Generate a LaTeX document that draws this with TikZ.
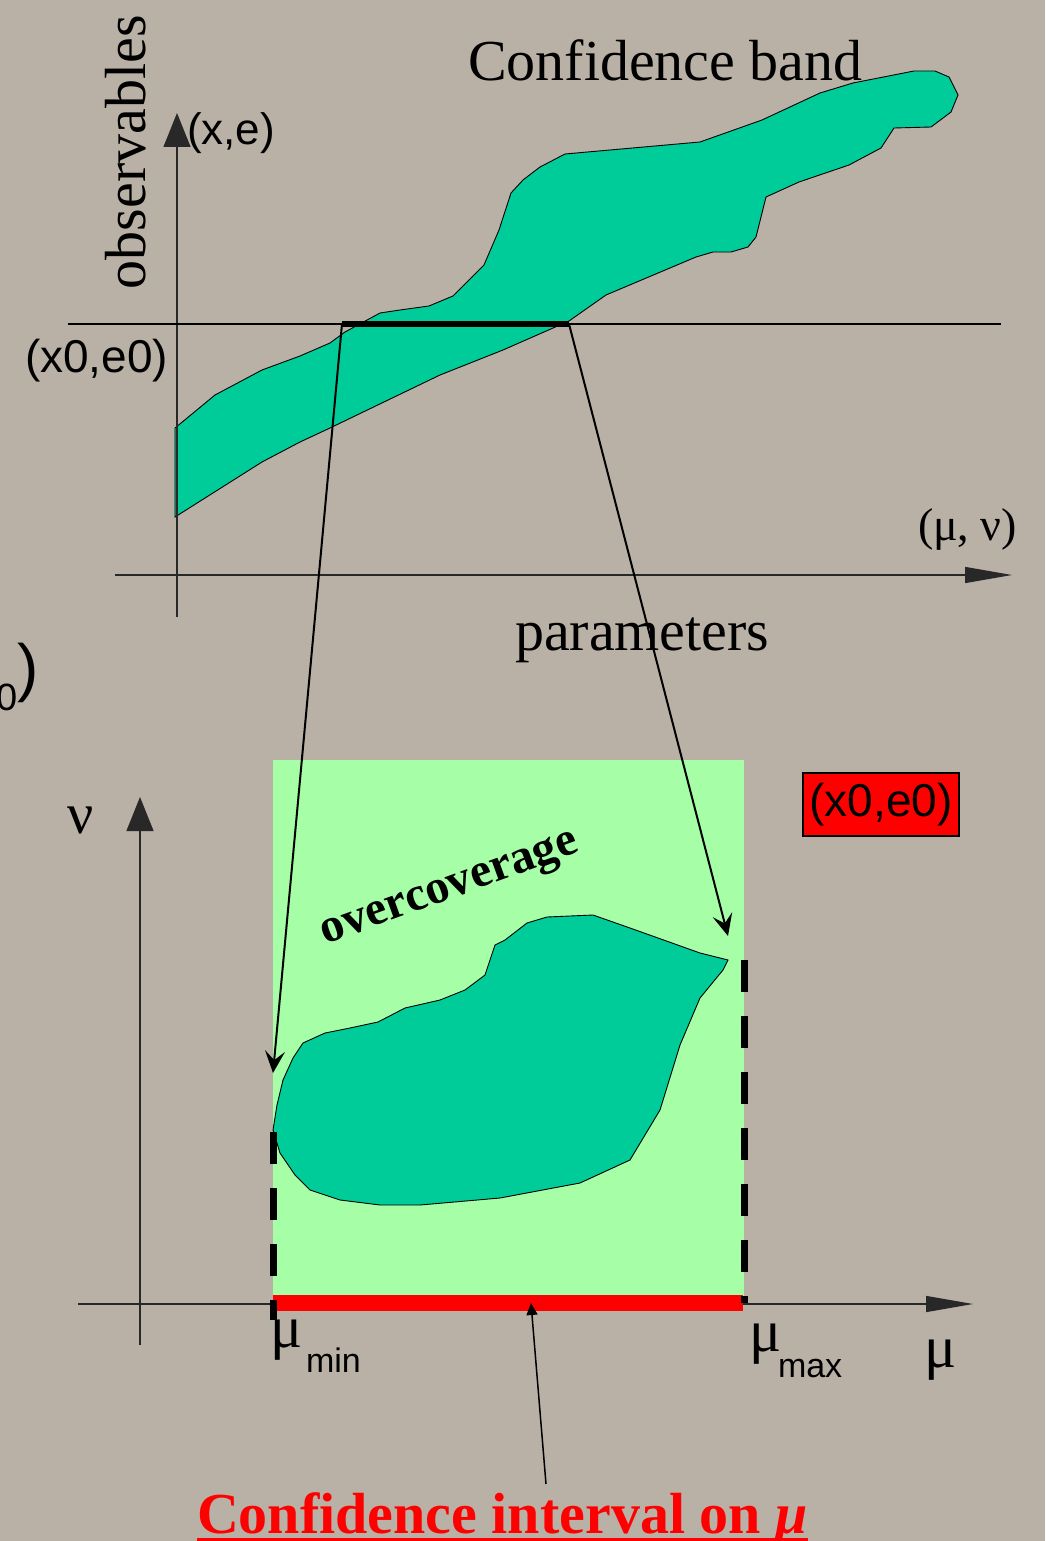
\documentclass[tikz,border=0pt]{standalone}
\usepackage{fontspec}
\setmainfont{Liberation Serif}
\setsansfont{Liberation Sans}
\usetikzlibrary{arrows.meta}
\definecolor{bgc}{RGB}{185,176,166}
\definecolor{bandc}{RGB}{0,204,153}
\definecolor{lightc}{RGB}{166,255,166}
\definecolor{axisc}{RGB}{40,40,40}
\newcommand\fsz[1]{\fontsize{#1pt}{#1pt}\selectfont}
\begin{document}
\begin{tikzpicture}[x=1pt,y=-1pt,
  lbl/.style={inner sep=0pt, outer sep=0pt},
  axisline/.style={draw=axisc, line width=1.3pt},
  blobline/.style={draw=black, line width=0.9pt, fill=bandc},
  proj/.style={line width=2pt, -{Stealth[length=22pt,width=20pt,inset=9pt]}},
  dashbar/.style={line width=7pt, dash pattern=on 32pt off 24pt},
  bigtip/.style={-{Triangle[length=34pt,width=27pt]}},
  longtip/.style={-{Triangle[length=47pt,width=16pt]}}
]
\useasboundingbox (0,0) rectangle (1045,1541);
\clip (0,0) rectangle (1045,1541);
\fill[bgc] (0,0) rectangle (1045,1541);

% ---------- top: confidence band ----------
\path[blobline] (175,428) -- (215,395) -- (262,370) -- (300,356) -- (330,343) -- (345,332) -- (380,313) -- (400,310) -- (429,306) -- (453,296) -- (484,265) -- (499,230) -- (511,193) -- (523,180) -- (540,167) -- (565,154) -- (700,142) -- (762,120) -- (820,93) -- (853,83) -- (914,71) -- (935,71) -- (949,77) -- (958,95) -- (951,112) -- (931,127) -- (894,128) -- (881,148) -- (849,165) -- (799,182) -- (766,197) -- (756,237) -- (748,247) -- (731,252) -- (713,252) -- (696,257) -- (606,295) -- (569,321) -- (503,350) -- (440,375) -- (330,428) -- (300,442) -- (262,462) -- (175,517) -- cycle;

% axes (top)
\draw[axisline, bigtip] (177,617) -- (177,113);
\draw[axisline, longtip] (115,575) -- (1012,575);
% observed line
\draw[line width=2pt] (68,324) -- (1001,324);
\coordinate (segL) at (342,324);
\coordinate (segR) at (569,324);
\draw[line width=6pt] (segL) -- (segR);

% top labels
\node[lbl, font=\fsz{58}, anchor=base west] (cband) at (468,81) {Confidence band};
\node[lbl, font=\fsz{58}, anchor=base west, rotate=90] (obs) at (145,289) {observables};
\node[lbl, font=\sffamily\fsz{44}, anchor=base west] (xe) at (187,145) {(x,e)};
\node[lbl, font=\sffamily\fsz{46}, anchor=base west] (x0e0) at (25,372) {(x0,e0)};
\node[lbl, font=\fsz{46}, anchor=base west] (munu) at (918,540) {(μ, ν)};
\node[lbl, font=\fsz{58}, anchor=base west] (params) at (515,650) {parameters};
\node[lbl, font=\sffamily\fsz{64}, anchor=base east] (frag) at (39,689) {e{\fsz{38}\raisebox{-21pt}{0}})};

% ---------- bottom: parameter space ----------
\draw[axisline, bigtip] (140,1345) -- (140,797);
\draw[axisline, longtip] (78,1304) -- (973,1304);
\fill[lightc] (273,760) rectangle (744,1300);
\path[blobline] (273,1130) -- (277,1105) -- (283,1080) -- (293,1058) -- (303,1043) -- (325,1033) -- (350,1028) -- (378,1022) -- (405,1008) -- (440,1000) -- (465,990) -- (485,975) -- (495,945) -- (505,940) -- (527,923) -- (547,917) -- (593,915) -- (630,928) -- (700,953) -- (728,960) -- (723,970) -- (700,998) -- (680,1045) -- (660,1110) -- (630,1160) -- (580,1183) -- (500,1198) -- (420,1205) -- (380,1205) -- (340,1200) -- (310,1190) -- (295,1175) -- (280,1153) -- cycle;
\fill[red] (273,1295) rectangle (743,1311);
\draw[dashbar] (273,1132) -- (273,1320);
\draw[dashbar] (744,960) -- (744,1303);

\node[lbl, font=\bfseries\fsz{48}, anchor=base, rotate=20] (over) at (453,898) {overcoverage};
\node[lbl, draw=black, fill=red, line width=1.5pt, minimum width=156pt, minimum height=63pt, font=\sffamily\fsz{46}] (box) at (881,804.5) {(x0,e0)};
\node[lbl, font=\fsz{58}, anchor=base west] (nu) at (67,833) {ν};
\node[lbl, font=\fsz{60}, anchor=base west] (mumin) at (270,1347) {μ};
\node[lbl, font=\sffamily\fsz{34}, anchor=base west] (minl) at (306,1372) {min};
\node[lbl, font=\fsz{60}, anchor=base west] (mumax) at (749,1351) {μ};
\node[lbl, font=\sffamily\fsz{34}, anchor=base west] (maxl) at (778,1377) {max};
\node[lbl, font=\fsz{60}, anchor=base west] (mu) at (924,1367) {μ};

% projection arrows
\coordinate (tipL) at (273,1073);
\coordinate (tipR) at (728,936);
\draw[proj] (segL) -- (tipL);
\draw[proj] (segR) -- (tipR);

% confidence interval label
\node[lbl, font=\bfseries\fsz{58}, text=red, anchor=base west] (ci) at (197,1533) {Confidence interval on \textit{μ}};
\draw[red, line width=4pt] ([yshift=-7pt]ci.base west) -- ([yshift=-7pt]ci.base east);
\coordinate (ciTop) at (546,1484);
\coordinate (barPt) at (531,1303);
\draw[line width=1.5pt, -{Triangle[length=12pt,width=11pt]}] (ciTop) -- (barPt);
\end{tikzpicture}
\end{document}
